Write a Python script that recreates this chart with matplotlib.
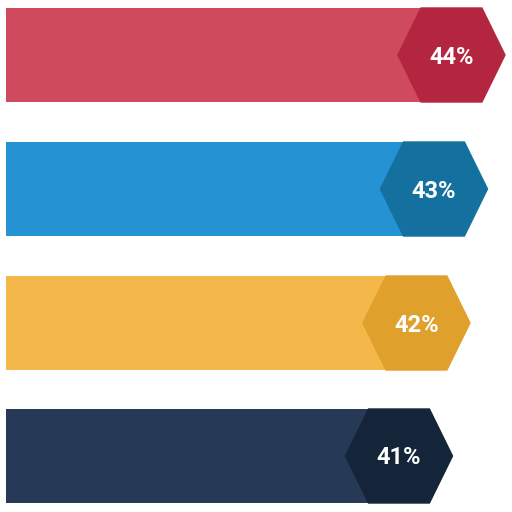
import matplotlib
matplotlib.use("Agg")
import matplotlib.pyplot as plt
from matplotlib.patches import Polygon

values = [44, 43, 42, 41]
labels = ["44%", "43%", "42%", "41%"]
bar_colors = ["#CF4A5C", "#2492D3", "#F4B74A", "#263A57"]
hex_colors = ["#B42540", "#14709F", "#E0A02C", "#152539"]
ypos = [55, 189, 323, 456]

base = 18.54
fig = plt.figure(figsize=(5.12, 5.12), dpi=100)
ax = fig.add_axes([0, 0, 1, 1])
ax.set_xlim(18.2, 47.46)
ax.set_ylim(512, 0)
ax.axis("off")

h = 94
hw = 3.06
sh = 1.74
for v, lab, bc, hc, y in zip(values, labels, bar_colors, hex_colors, ypos):
    ax.barh(y, v - base, left=base, height=h, color=bc)
    pts = [(v - hw, y), (v - sh, y - h / 2), (v + sh, y - h / 2),
           (v + hw, y), (v + sh, y + h / 2), (v - sh, y + h / 2)]
    ax.add_patch(Polygon(pts, closed=True, color=hc))
    ax.text(v, y + 2, lab, color="white", fontsize=17, fontweight="bold",
            family="Roboto", ha="center", va="center")

fig.savefig("out.png", dpi=100)
